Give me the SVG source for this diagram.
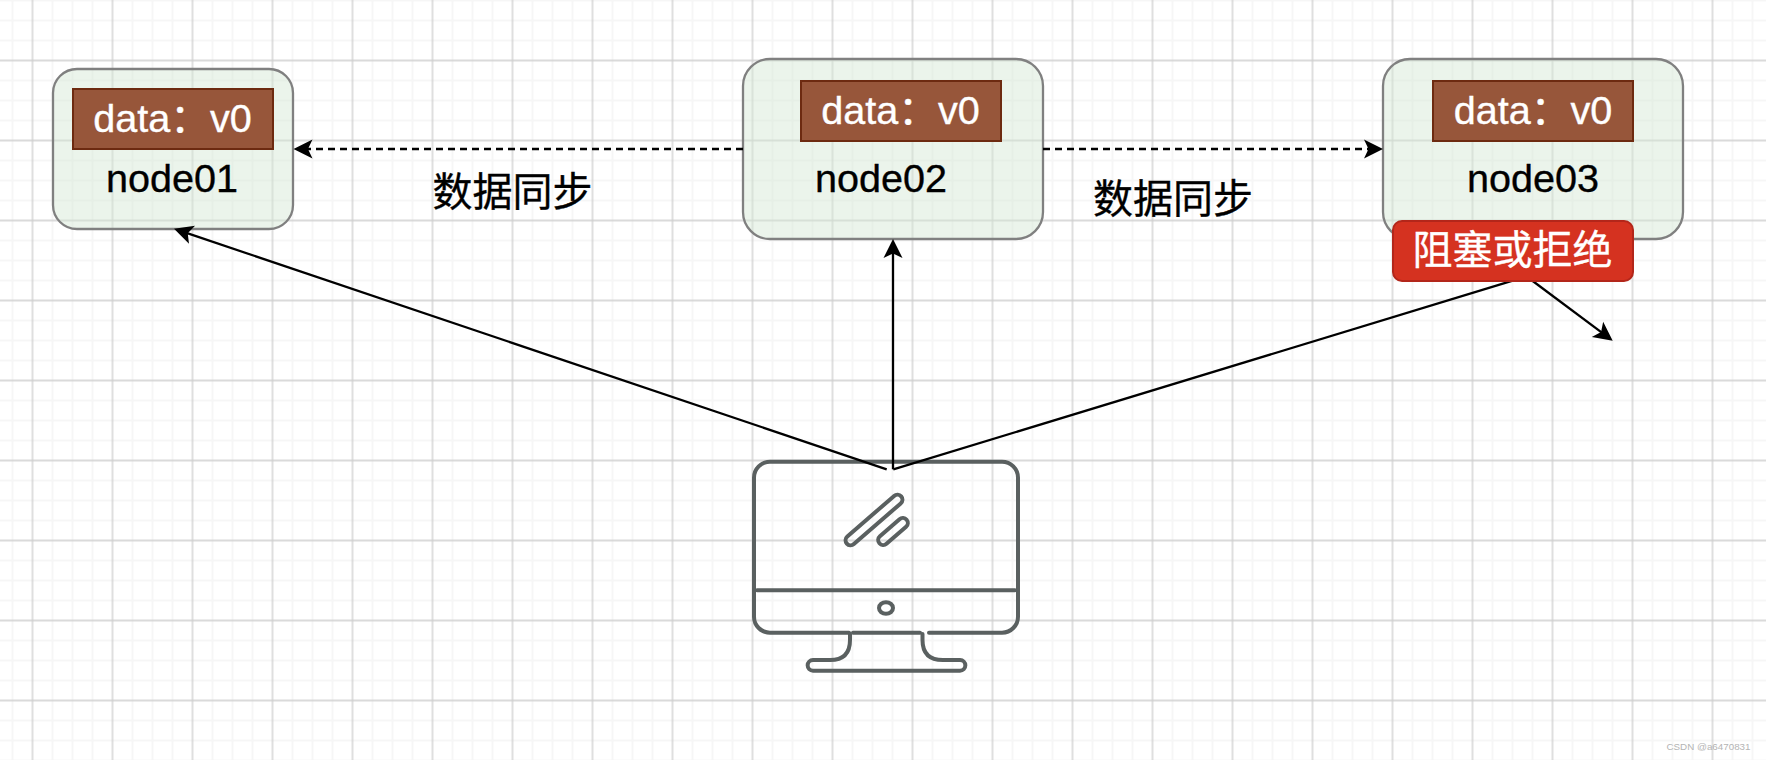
<svg xmlns="http://www.w3.org/2000/svg" width="1766" height="760" viewBox="0 0 1766 760">
<style>
.box{fill:#d5e8d4;fill-opacity:.47;stroke:#808080;stroke-width:2.3}
.data{fill:#97563a;stroke:#6d2a10;stroke-width:2}
.t{font-family:"Liberation Sans","Noto Sans CJK SC",sans-serif;font-size:39.600px;text-anchor:middle;stroke-width:.35}
.c{font-size:40px}
.w{fill:#fff;stroke:#fff}
.k{fill:#000;stroke:#000}
.line{fill:none;stroke:#000;stroke-width:2.300}
.dash{stroke-dasharray:7 5}
.mon{fill:none;stroke:#5a6060;stroke-width:4;stroke-linecap:round;stroke-linejoin:round}
</style>
<defs>
<pattern id="grid" patternUnits="userSpaceOnUse" x="2.5" y="-9.5" width="80" height="80">
<path d="M10 0V80M50 0V80M70 0V80M0 10H80M0 30H80M0 50H80" fill="none" stroke="#f6f6f6" stroke-width="2"/>
<path d="M30 0V80M0 70H80" fill="none" stroke="#cecece" stroke-width="1.3"/>
</pattern>
<marker id="arrow" markerUnits="userSpaceOnUse" markerWidth="22" markerHeight="22" viewBox="0 -11 22 22" refX="13" refY="0" orient="auto" overflow="visible">
<path d="M19 0L0 -9.500L4.500 0L0 9.500Z" fill="#000"/>
</marker>
<filter id="soft" x="-5%" y="-5%" width="110%" height="110%"><feGaussianBlur stdDeviation="0.7"/></filter>
</defs>
<rect width="1766" height="760" fill="#fff"/>
<rect width="1766" height="760" fill="url(#grid)"/>
<g id="client" class="mon" filter="url(#soft)">
<path d="M849 632.7H770a16 16 0 0 1-16-16V477.7a16 16 0 0 1 16-16H1002a16 16 0 0 1 16 16V616.7a16 16 0 0 1-16 16H929"/>
<path d="M853 632.7H920"/>
<path d="M757 590.3H1015"/>
<ellipse cx="886" cy="608" rx="7" ry="5.8"/>
<rect x="838" y="515" width="72" height="10" rx="5" transform="rotate(-41 874 520)"/>
<rect x="875" y="526.500" width="36" height="10" rx="5" transform="rotate(-41 893 531.5)"/>
<path d="M850 634V640Q850 660 830 660H813a5.300 5.300 0 0 0 0 10.700H960a5.300 5.300 0 0 0 0-10.700H943Q922.500 660 922.500 640V634"/>
</g>
<g id="node01">
<rect class="box" x="53" y="69" width="240" height="160" rx="24"/>
<rect class="data" x="73" y="89" width="200" height="60"/>
<text class="t w" x="172.500" y="131.500">data：v0</text>
<text class="t k" x="172" y="191.500">node01</text>
</g>
<g id="node02">
<rect class="box" x="743" y="59" width="300" height="180" rx="27"/>
<rect class="data" x="801" y="81" width="200" height="60"/>
<text class="t w" x="900.500" y="124">data：v0</text>
<text class="t k" x="881" y="191.500">node02</text>
</g>
<g id="node03">
<rect class="box" x="1383" y="59" width="300" height="180" rx="27"/>
<rect class="data" x="1433" y="81" width="200" height="60"/>
<text class="t w" x="1533" y="124">data：v0</text>
<text class="t k" x="1533" y="191.500">node03</text>
</g>
<g id="connectors">
<path class="line dash" d="M743 149H299.500" marker-end="url(#arrow)"/>
<path class="line dash" d="M1043 149H1377" marker-end="url(#arrow)"/>
<path class="line" d="M886.700 469.300L179.700 230.600" marker-end="url(#arrow)"/>
<path class="line" d="M893 469.300V245" marker-end="url(#arrow)"/>
<path class="line" d="M893.300 469.300L1512.700 280.700"/>
<path class="line" d="M1532.700 281L1607.900 337.100" marker-end="url(#arrow)"/>
</g>
<g id="blocked">
<rect x="1393" y="221" width="240" height="60" rx="9" fill="#d53220" stroke="#b3261a" stroke-width="2"/>
<text class="t c w" x="1512.500" y="264">阻塞或拒绝</text>
</g>
<g id="labels">
<text class="t c k" x="512.500" y="206">数据同步</text>
<text class="t c k" x="1173" y="213">数据同步</text>
<text x="1750.500" y="750" text-anchor="end" font-family="Liberation Sans, sans-serif" font-size="9.800" fill="#b4b4b4">CSDN @a6470831</text>
</g>
</svg>
